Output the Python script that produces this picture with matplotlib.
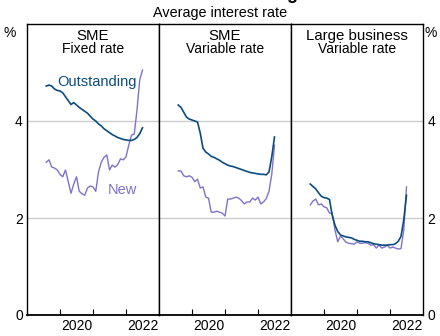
import matplotlib
matplotlib.use("Agg")
import matplotlib.pyplot as plt
import numpy as np
import pandas as pd

plt.rcParams['font.family'] = ['Liberation Sans', 'DejaVu Sans']

# Monthly observations, Aug 2019 to Jul 2022
months = pd.date_range("2019-08-01", "2022-07-01", freq="MS")
t = months.year + (months.month - 1) / 12.0

sme_fixed_outstanding = [4.72, 4.74, 4.72, 4.66, 4.63, 4.62, 4.58, 4.50, 4.42, 4.34,
                         4.38, 4.33, 4.28, 4.24, 4.20, 4.16, 4.10, 4.04, 4.00, 3.94,
                         3.90, 3.84, 3.80, 3.76, 3.72, 3.69, 3.66, 3.64, 3.62, 3.61,
                         3.60, 3.60, 3.62, 3.66, 3.74, 3.86]
sme_fixed_new = [3.15, 3.20, 3.05, 3.03, 2.99, 2.90, 2.85, 2.99, 2.75, 2.51,
                 2.70, 2.85, 2.55, 2.50, 2.47, 2.62, 2.66, 2.64, 2.55, 2.95,
                 3.15, 3.25, 3.30, 2.99, 3.09, 3.05, 3.10, 3.22, 3.20, 3.26,
                 3.50, 3.71, 3.73, 4.23, 4.85, 5.05]

sme_var_outstanding = [4.33, 4.28, 4.18, 4.08, 4.04, 4.02, 4.00, 3.98, 3.75, 3.44,
                       3.36, 3.32, 3.27, 3.25, 3.22, 3.19, 3.15, 3.12, 3.09, 3.07,
                       3.06, 3.04, 3.02, 3.00, 2.98, 2.96, 2.94, 2.93, 2.92, 2.91,
                       2.90, 2.90, 2.89, 2.95, 3.26, 3.67]
sme_var_new = [2.97, 2.97, 2.87, 2.85, 2.87, 2.84, 2.75, 2.80, 2.62, 2.64,
               2.43, 2.41, 2.12, 2.12, 2.14, 2.12, 2.10, 2.04, 2.39, 2.39,
               2.41, 2.43, 2.41, 2.36, 2.29, 2.33, 2.33, 2.41, 2.37, 2.43,
               2.29, 2.33, 2.40, 2.55, 2.90, 3.50]

large_var_outstanding = [2.70, 2.65, 2.60, 2.52, 2.45, 2.42, 2.41, 2.38, 2.05, 1.85,
                         1.72, 1.65, 1.63, 1.61, 1.60, 1.59, 1.56, 1.54, 1.52, 1.52,
                         1.51, 1.51, 1.49, 1.47, 1.46, 1.45, 1.44, 1.44, 1.44, 1.45,
                         1.45, 1.47, 1.52, 1.62, 1.96, 2.47]
large_var_new = [2.27, 2.35, 2.39, 2.27, 2.29, 2.23, 2.21, 2.10, 2.10, 1.75,
                 1.51, 1.63, 1.57, 1.50, 1.48, 1.47, 1.46, 1.51, 1.48, 1.48,
                 1.49, 1.48, 1.44, 1.45, 1.38, 1.44, 1.38, 1.40, 1.44, 1.38,
                 1.40, 1.38, 1.36, 1.37, 1.75, 2.64]

panel_heads = ["SME", "SME", "Large business"]
panel_subs = ["Fixed rate", "Variable rate", "Variable rate"]
panels = [(sme_fixed_outstanding, sme_fixed_new),
          (sme_var_outstanding, sme_var_new),
          (large_var_outstanding, large_var_new)]
y_ticks = [0, 2, 4]
year_ticks = [2020, 2021, 2022]
year_labels = ["2020", "2022"]
year_label_pos = [2020.5, 2022.5]

c_out = "#0b4c80"
c_new = "#7f72cc"
grid_c = "#cccccc"

W, H = 440, 336
fig = plt.figure(figsize=(W / 100, H / 100), dpi=100)

left_px, right_px, top_px, bot_px = 27, 423, 24, 315
pw = (right_px - left_px) / 3
axes = []
for i, ((out, new), head, sub) in enumerate(zip(panels, panel_heads, panel_subs)):
    ax = fig.add_axes([(left_px + i * pw) / W, (H - bot_px) / H,
                       pw / W, (bot_px - top_px) / H])
    ax.set_xlim(2019, 2023)
    ax.set_ylim(0, 6)
    for y in (2, 4):
        ax.axhline(y, color=grid_c, lw=1.0, zorder=0)
    ax.plot(t, new, color=c_new, lw=1.0, zorder=2)
    ax.plot(t, out, color=c_out, lw=1.2, zorder=3)
    ax.set_xticks(year_ticks)
    ax.set_xticklabels([])
    ax.set_xticks(year_label_pos, minor=True)
    ax.set_xticklabels(year_labels, minor=True)
    ax.tick_params(axis='x', which='major', direction='in', length=4, width=0.8)
    ax.tick_params(axis='x', which='minor', length=0, labelsize=10, pad=3)
    ax.set_yticks(y_ticks)
    ax.tick_params(axis='y', length=0, labelsize=10, pad=3)
    if i == 0:
        ax.tick_params(axis='y', labelleft=True, labelright=False)
    elif i == 2:
        ax.tick_params(axis='y', labelleft=False, labelright=True)
    else:
        ax.tick_params(axis='y', labelleft=False, labelright=False)
    for s in ax.spines.values():
        s.set_linewidth(1.0)
    ax.spines['bottom'].set_linewidth(1.3)
    ax.text(0.5, 1 - 12 / (bot_px - top_px), head, transform=ax.transAxes,
            ha='center', va='center', fontsize=10.8)
    ax.text(0.5, 1 - 25 / (bot_px - top_px), sub, transform=ax.transAxes,
            ha='center', va='center', fontsize=10)
    axes.append(ax)

axes[0].text(2019.92, 4.80, "Outstanding", color=c_out, fontsize=10.5, va='center', ha='left')
axes[0].text(2021.45, 2.58, "New", color=c_new, fontsize=10.5, va='center', ha='left')

fig.text(10 / W, 1 - 33 / H, "%", fontsize=10, ha='center', va='center')
fig.text(431 / W, 1 - 33 / H, "%", fontsize=10, ha='center', va='center')
fig.text(0.5, 1 - 13 / H, "Average interest rate", fontsize=10.4, ha='center', va='center')
fig.text(0.5, 1 + 1 / H, "Business Lending", fontsize=13, fontweight='bold',
         ha='center', va='baseline')

fig.savefig("out.png", dpi=100)
